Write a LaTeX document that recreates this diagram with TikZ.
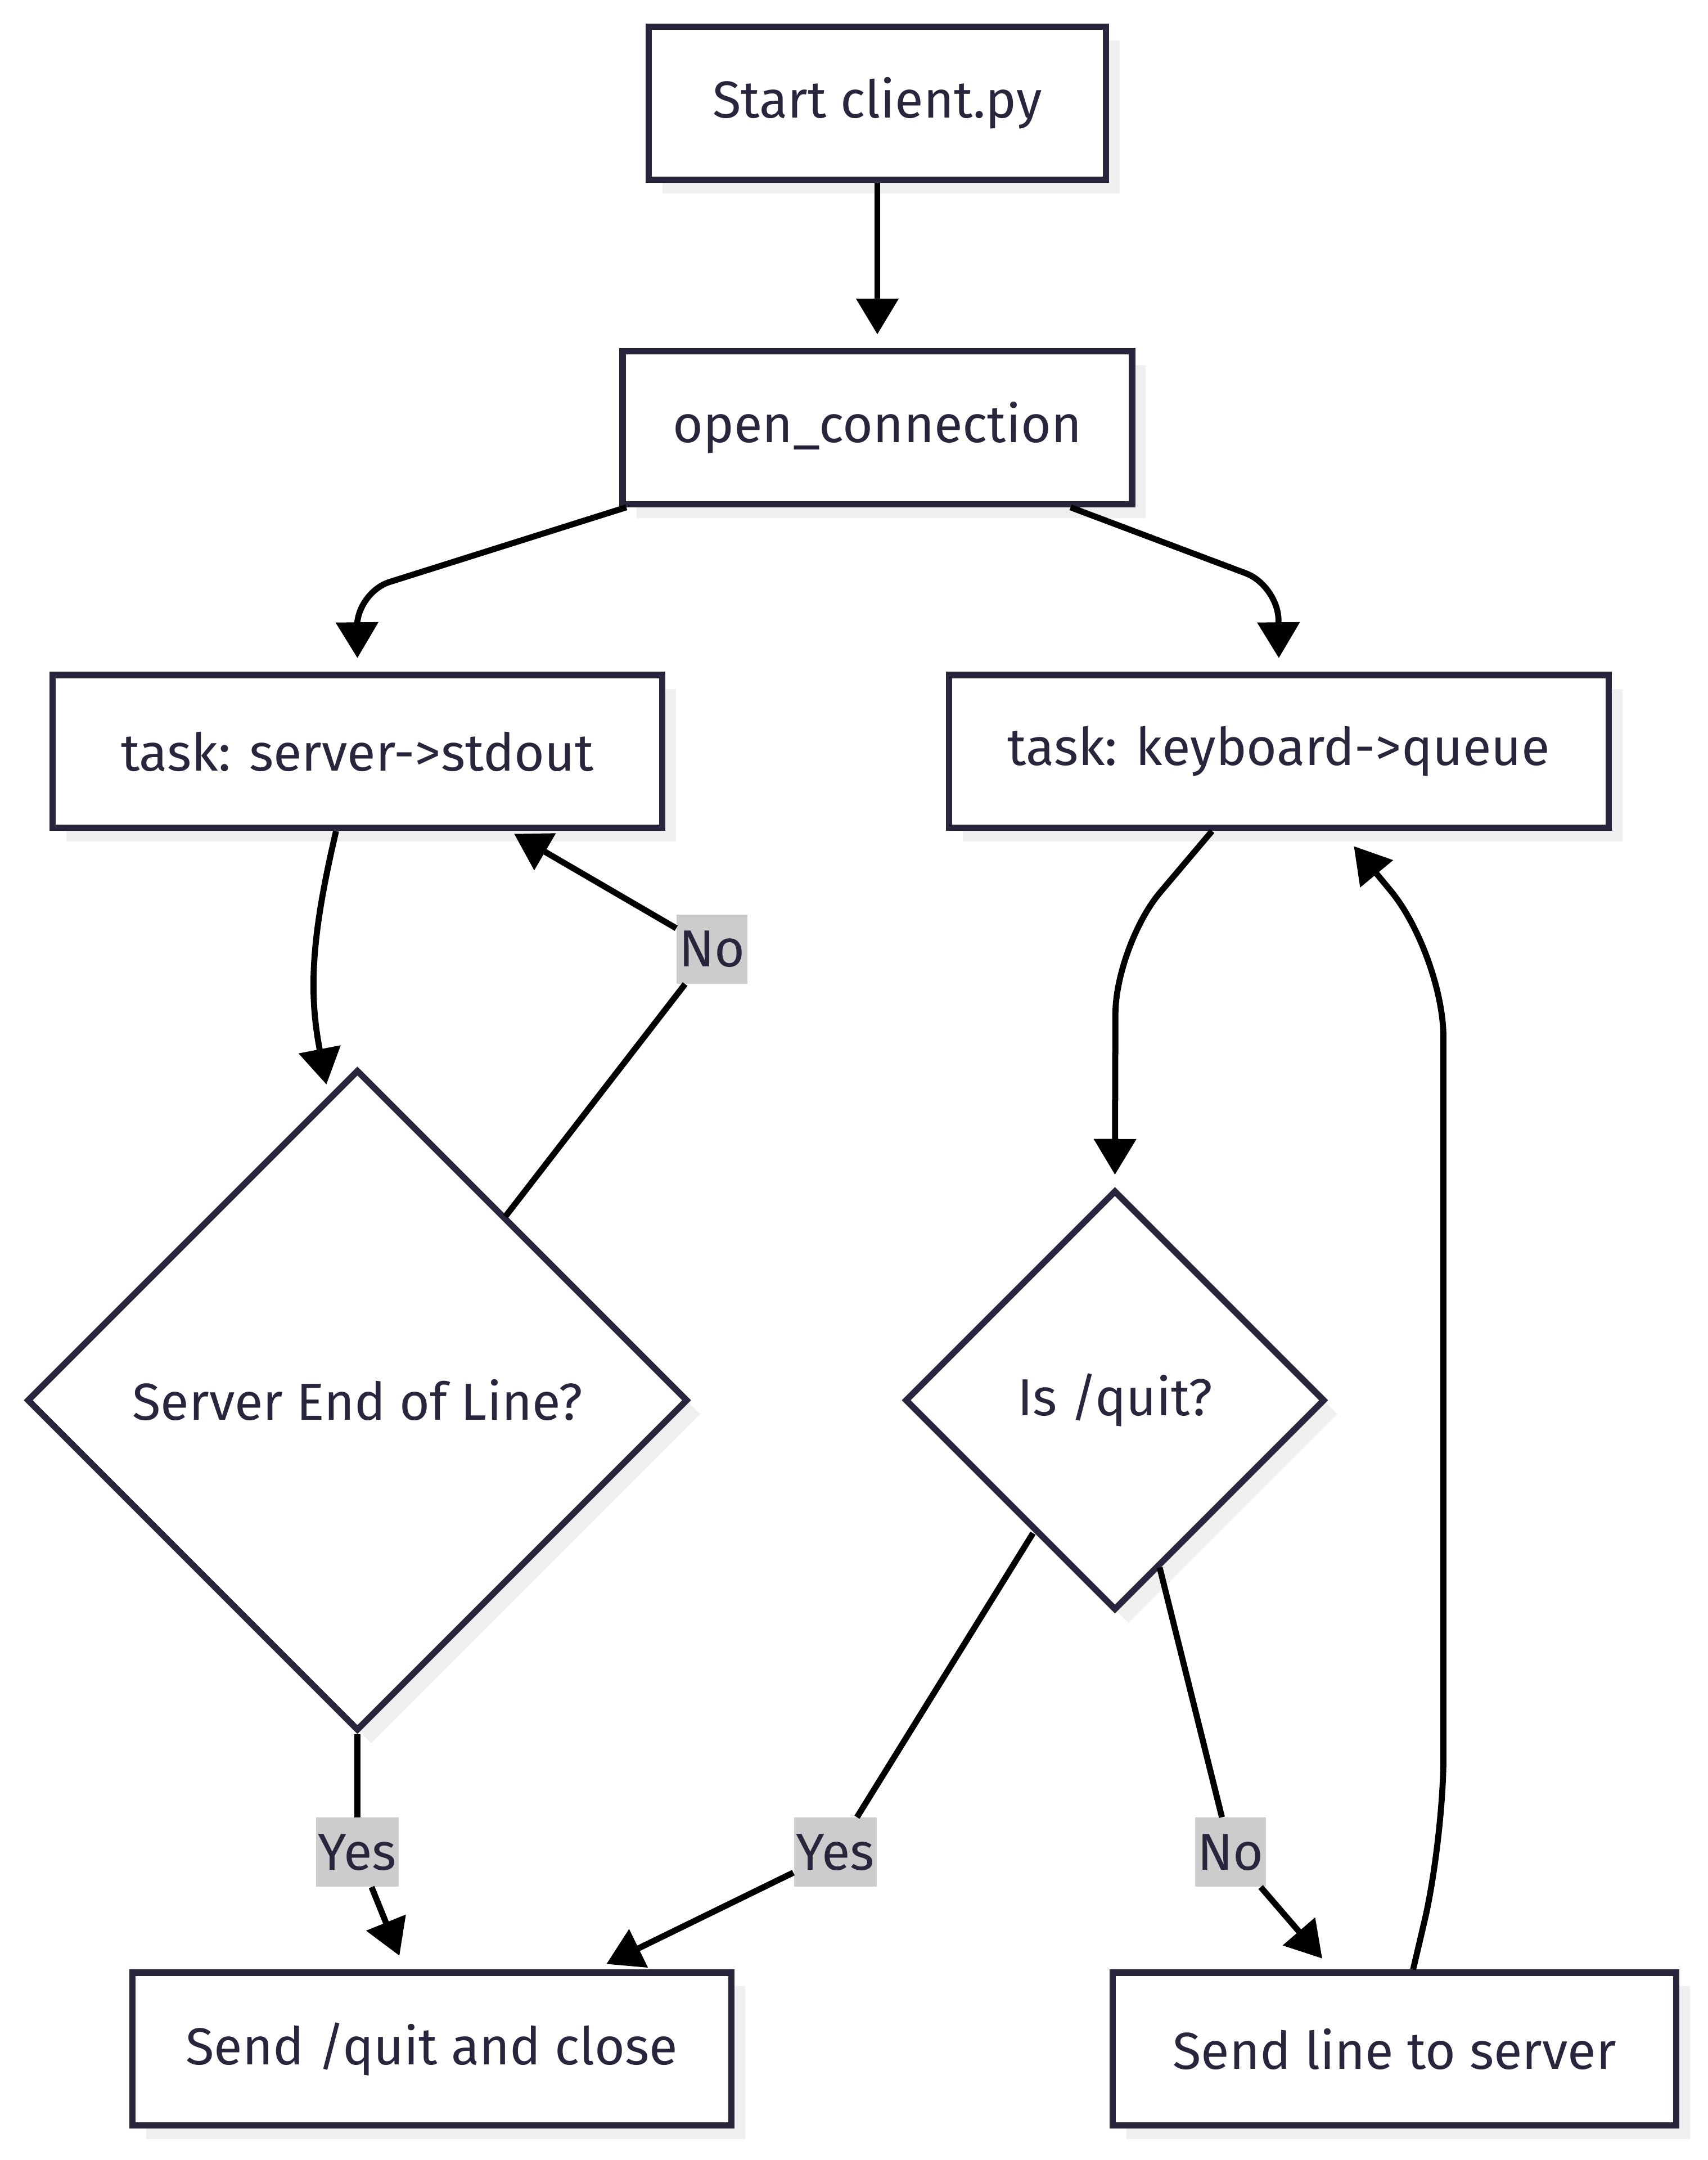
\documentclass[tikz,border=0pt]{standalone}
\usepackage{fontspec}
\setmainfont{Fira Sans}
\usetikzlibrary{arrows.meta,shapes.geometric,shadows}
\definecolor{ink}{HTML}{27263C}
\definecolor{shade}{HTML}{EFEFEF}
\definecolor{tagfill}{HTML}{CCCCCC}
\tikzset{
  box/.style={draw=ink, line width=2.6pt, fill=white, text=ink,
    font=\fontsize{21.5}{26}\selectfont, minimum height=2.22cm, inner sep=0pt,
    drop shadow={shadow xshift=0.2cm, shadow yshift=-0.2cm, fill=shade, opacity=1}},
  decision/.style={box, diamond, aspect=1},
  lbl/.style={fill=tagfill, text=ink, font=\fontsize{21.5}{26}\selectfont,
    inner xsep=1pt, inner ysep=0pt, minimum height=1cm},
  wire/.style={draw=black, line width=2.5pt},
  flow/.style={wire, -{Triangle[length=0.52cm,width=0.6cm]}}
}
\begin{document}
\begin{tikzpicture}[x=0.02cm,y=-0.02cm]
    \useasboundingbox (0,0) rectangle (1240,1568);
    \node[box, minimum width=6.64cm] (start) at (637,75) {Start client.py};
    \node[box, minimum width=7.4cm] (open) at (637,310.5) {open\_connection};
    \node[box, minimum width=8.86cm] (srv) at (259.5,545.5) {task: server->stdout};
    \node[box, minimum width=9.58cm] (kbd) at (928.5,545.5) {task: keyboard->queue};
    \node[decision, minimum size=9.6cm] (eol) at (259.5,1016.5) {Server End of Line?};
    \node[decision, minimum size=6.1cm] (quit) at (809.5,1016.5) {Is /quit?};
    \node[box, minimum width=8.7cm] (sendq) at (313.5,1487.5) {Send /quit and close};
    \node[box, minimum width=8.18cm] (sendl) at (1012.5,1487.5) {Send line to server};
    \node[lbl] (no1) at (517,689) {No};
    \node[lbl] (yes1) at (259.5,1344.5) {Yes};
    \node[lbl] (yes2) at (606.5,1344.5) {Yes};
    \node[lbl] (no2) at (893.5,1344.5) {No};
    \draw[flow, shorten >=0.2cm] (start) -- (open);
    \draw[flow, rounded corners=0.5cm] ([xshift=0.1cm]open.south west) -- (259,430) -- ([yshift=0.2cm]srv.north);
    \draw[flow, rounded corners=0.5cm] ([xshift=-0.94cm]open.south east) -- (928,425) -- ([yshift=0.2cm]kbd.north);
    \draw[flow] ([xshift=-0.31cm]srv.south) .. controls (226,680) and (224,720) .. ([xshift=-0.45cm,yshift=-0.26cm]eol.north);
    \draw[wire] ([xshift=2.15cm,yshift=2.67cm]eol.center) -- (no1);
    \draw[flow] (no1) -- ([xshift=-2.2cm,yshift=-0.04cm]srv.south east);
    \draw[wire] (eol.south) -- (yes1);
    \draw[flow] (yes1) -- ([xshift=-0.47cm,yshift=0.2cm]sendq.north);
    \draw[flow, rounded corners=1cm] ([xshift=-0.97cm]kbd.south) -- (810,686) -- ([yshift=0.18cm]quit.north);
    \draw[wire] ([xshift=-1.19cm,yshift=-1.93cm]quit.center) -- (yes2);
    \draw[flow] (yes2) -- ([xshift=-1.86cm,yshift=0.08cm]sendq.north east);
    \draw[wire] ([xshift=0.65cm,yshift=-2.43cm]quit.center) -- (no2);
    \draw[flow] (no2) -- ([xshift=-1.05cm,yshift=0.16cm]sendl.north);
    \draw[flow, rounded corners=1.2cm] ([xshift=0.27cm]sendl.north) -- (1048,1336) -- (1048,693) -- ([xshift=1.09cm,yshift=-0.22cm]kbd.south);
\end{tikzpicture}
\end{document}
